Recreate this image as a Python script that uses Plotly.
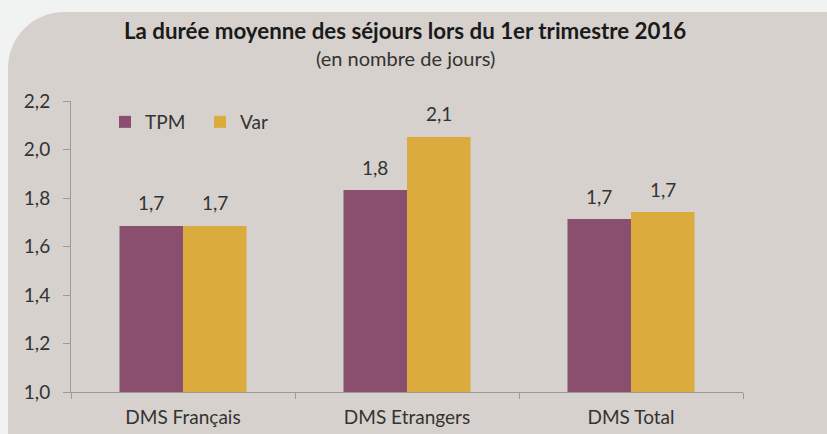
import plotly.graph_objects as go

categories = ["DMS Français", "DMS Etrangers", "DMS Total"]
tpm_values = [1.685, 1.833, 1.713]
var_values = [1.685, 2.052, 1.742]
series_names = ["TPM", "Var"]
y_ticks = [1.0, 1.2, 1.4, 1.6, 1.8, 2.0, 2.2]

W, H = 827, 434
ML, MR, MT, MB = 71, 84, 101, 42
PW, PH = W - ML - MR, H - MT - MB

def px(x):
    return (x - ML) / PW

def py(y):
    return (H - MB - y) / PH

FONT = "Lato"
TXT = "#333333"
COLORS = ["#8a4f6e", "#dcab3d"]

fig = go.Figure()
for name, vals, col in zip(series_names, [tpm_values, var_values], COLORS):
    fig.add_trace(go.Bar(name=name, x=categories, y=vals,
                         marker=dict(color=col, line=dict(width=0))))

# data labels above each bar (offset within the group)
bar_px = 63.5
for i, vals in enumerate([tpm_values, var_values]):
    shift = (i - 0.5) * bar_px
    for c, v in zip(categories, vals):
        fig.add_annotation(x=c, y=v, xref="x", yref="y", text=f"{v:.1f}".replace(".", ","),
                           showarrow=False, xshift=shift, yshift=23,
                           xanchor="center", yanchor="middle",
                           font=dict(size=19, color=TXT, family=FONT))

R = 56
path = (f"M {px(8)},{py(460)} L {px(8)},{py(12 + R)} "
        f"C {px(8)},{py(12 + R * 0.45)} {px(8 + R * 0.45)},{py(12)} {px(8 + R)},{py(12)} "
        f"L {px(860)},{py(12)} L {px(860)},{py(460)} Z")
fig.add_shape(type="path", xref="paper", yref="paper", path=path,
              fillcolor="#d6d1cd", line=dict(width=0), layer="below")

fig.add_annotation(text="<b>La durée moyenne des séjours lors du 1er trimestre 2016</b>",
                   xref="paper", yref="paper", x=px(405), y=py(30),
                   xanchor="center", yanchor="middle",
                   showarrow=False, font=dict(size=22.3, color="#1a1a1a", family=FONT))
fig.add_annotation(text="(en nombre de jours)",
                   xref="paper", yref="paper", x=px(405), y=py(58),
                   xanchor="center", yanchor="middle",
                   showarrow=False, font=dict(size=20, color=TXT, family=FONT))

fig.update_layout(
    width=W, height=H,
    margin=dict(l=ML, r=MR, t=MT, b=MB),
    paper_bgcolor="#f1f2f2", plot_bgcolor="rgba(0,0,0,0)",
    barmode="group", bargap=0.433, bargroupgap=0,
    font=dict(family=FONT, color=TXT, size=19),
    showlegend=True,
    legend=dict(orientation="h", x=px(105), y=py(122), xanchor="left", yanchor="middle",
                bgcolor="rgba(0,0,0,0)", font=dict(size=19, color=TXT, family=FONT),
                itemwidth=30, traceorder="normal", entrywidth=50),
    xaxis=dict(showline=True, linecolor="#9a9a9a", linewidth=1,
               ticks="outside", tickson="boundaries", ticklen=6, tickcolor="#9a9a9a",
               ticklabelstandoff=8, automargin=False,
               tickfont=dict(size=19, color=TXT, family=FONT), showgrid=False),
    yaxis=dict(range=[1.0, 2.2], tickvals=y_ticks,
               ticktext=[f"{t:.1f}".replace(".", ",") for t in y_ticks],
               showline=True, linecolor="#9a9a9a", linewidth=1,
               ticks="outside", ticklen=7, tickcolor="#9a9a9a",
               ticklabelstandoff=9, automargin=False,
               tickfont=dict(size=19, color=TXT, family=FONT), showgrid=False,
               zeroline=False),
)

fig.write_html("out.html", config={"displayModeBar": False},
               post_script="document.body.style.margin='0';document.body.style.background='#f1f2f2';")
